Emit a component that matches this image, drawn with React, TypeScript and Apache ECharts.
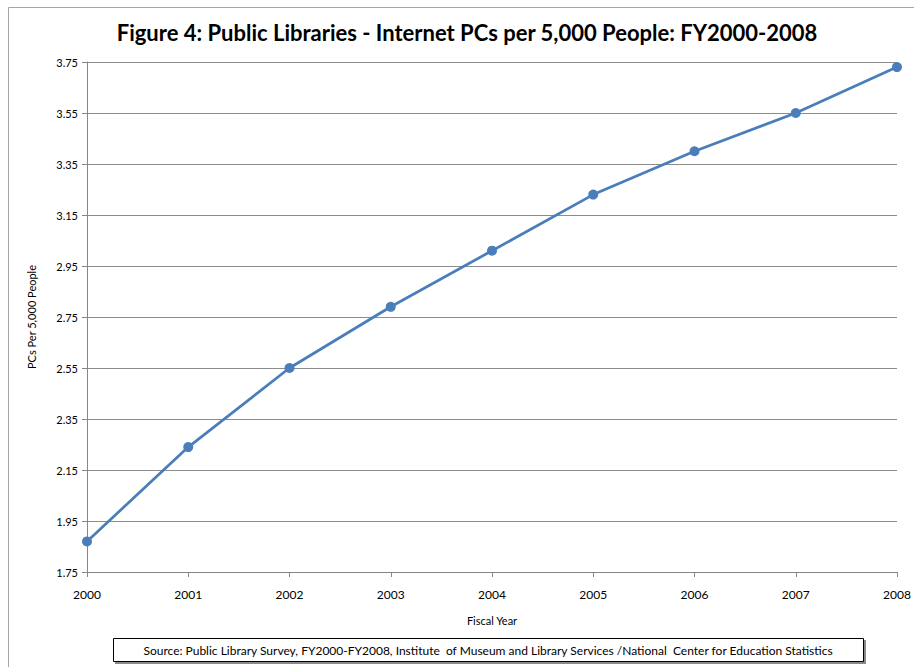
import React, { useEffect, useRef } from "react";
import * as echarts from "echarts";

const titleText = "Figure 4: Public Libraries - Internet PCs per 5,000 People: FY2000-2008";
const years = ["2000", "2001", "2002", "2003", "2004", "2005", "2006", "2007", "2008"];
const pcsPer5000 = [1.87, 2.24, 2.55, 2.79, 3.01, 3.23, 3.40, 3.55, 3.73];
const yMin = 1.75;
const yMax = 3.75;
const yStep = 0.2;
const xAxisName = "Fiscal Year";
const yAxisName = "PCs Per 5,000 People";
const sourceText =
  "Source: Public Library Survey, FY2000-FY2008, Institute  of Museum and Library Services /National  Center for Education Statistics";

const FONT = "Lato, 'Open Sans', sans-serif";

export default function App() {
  const ref = useRef<HTMLDivElement>(null);

  useEffect(() => {
    if (!ref.current) return;
    const chart = echarts.init(ref.current, undefined, { renderer: "svg" });
    chart.setOption({
      animation: false,
      backgroundColor: "#ffffff",
      textStyle: { fontFamily: FONT },
      title: {
        text: titleText,
        left: 462,
        top: 16,
        textAlign: "center",
        textStyle: { fontFamily: FONT, fontWeight: "bold", fontSize: 22, color: "#000" },
      },
      grid: { left: 87, top: 62, right: 17, bottom: 95, containLabel: false },
      xAxis: {
        type: "category",
        data: years,
        boundaryGap: false,
        name: xAxisName,
        nameLocation: "middle",
        nameGap: 43,
        nameTextStyle: { fontFamily: FONT, fontSize: 11, color: "#000" },
        axisLine: { lineStyle: { color: "#868686", width: 1 } },
        axisTick: { show: true, alignWithLabel: true, length: 5, lineStyle: { color: "#868686" } },
        axisLabel: { fontFamily: FONT, fontSize: 12, color: "#000", margin: 16 },
        splitLine: { show: false },
      },
      yAxis: {
        type: "value",
        min: yMin,
        max: yMax,
        interval: yStep,
        name: yAxisName,
        nameLocation: "middle",
        nameGap: 50,
        nameRotate: 90,
        nameTextStyle: { fontFamily: FONT, fontSize: 11, color: "#000" },
        axisLine: { show: true, lineStyle: { color: "#868686", width: 1 } },
        axisTick: { show: true, length: 5, lineStyle: { color: "#868686" } },
        axisLabel: {
          fontFamily: FONT,
          fontSize: 11,
          color: "#000",
          margin: 9,
          formatter: (v: number) => v.toFixed(2),
        },
        splitLine: { show: true, lineStyle: { color: "#8c8c8c", width: 1 } },
      },
      series: [
        {
          type: "line",
          data: pcsPer5000,
          symbol: "circle",
          symbolSize: 10,
          lineStyle: { color: "#4a7ebb", width: 2.75 },
          itemStyle: { color: "#4a7ebb" },
          z: 3,
        },
      ],
      graphic: [
        {
          type: "rect",
          silent: true,
          shape: { x: 8.5, y: 7.5, width: 1200, height: 1200 },
          style: { fill: "none", stroke: "#a6a6a6", lineWidth: 1 },
          z: -1,
        },
        {
          type: "rect",
          silent: true,
          shape: { x: 115, y: 640, width: 751, height: 24 },
          style: { fill: "#8a8a8a", stroke: "none" },
          z: 1,
        },
        {
          type: "rect",
          silent: true,
          shape: { x: 113.5, y: 638.5, width: 750, height: 23 },
          style: { fill: "#ffffff", stroke: "#000000", lineWidth: 1 },
          z: 2,
        },
        {
          type: "text",
          silent: true,
          x: 488,
          y: 650,
          z: 3,
          style: {
            text: sourceText,
            fontFamily: FONT,
            fontSize: 12,
            fill: "#000",
            textAlign: "center",
            textVerticalAlign: "middle",
          },
        },
      ],
    });
    return () => chart.dispose();
  }, []);

  return (
    <div
      ref={ref}
      style={{ position: "absolute", left: 0, top: 0, width: 914, height: 667 }}
    />
  );
}
